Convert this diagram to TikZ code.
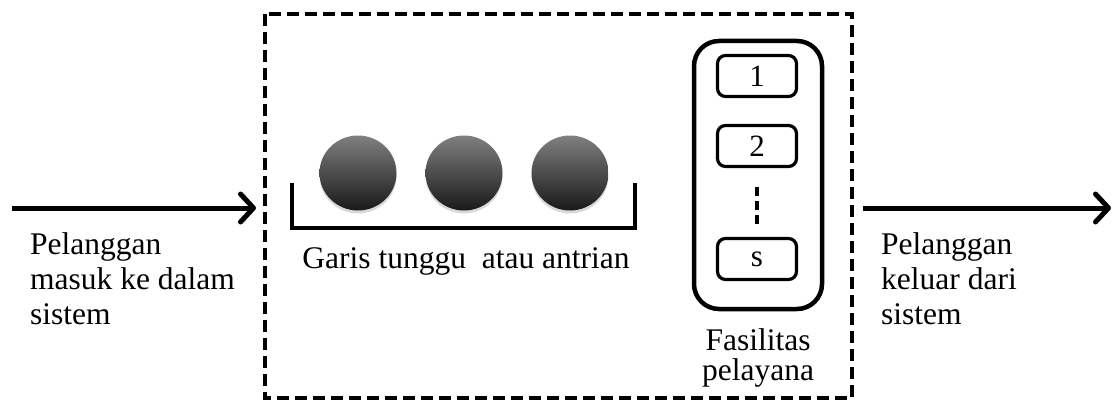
\documentclass[tikz,border=0pt]{standalone}
\usepackage{fontspec}
\setmainfont{Liberation Serif}
\usetikzlibrary{arrows.meta,shadows,shapes.geometric,calc}
\begin{document}
\begin{tikzpicture}[x=1pt,y=-1pt,
  lbl/.style={font=\fontsize{31.5}{35}\selectfont, inner sep=0pt, align=left},
  ball/.style={ellipse, minimum width=77pt, minimum height=75pt, inner sep=0pt,
    top color=black!50, bottom color=black!90, shading angle=0,
    drop shadow={shadow xshift=0pt, shadow yshift=-3pt, opacity=0.25, fill=black!60}},
  srv/.style={draw, line width=3.2pt, rounded corners=8pt, minimum width=79pt, minimum height=41pt,
    inner sep=0pt, font=\fontsize{31}{34}\selectfont},
  flow/.style={line width=5pt, -{Straight Barb[length=13pt,width=28pt,round]}},
]
\useasboundingbox (0,0) rectangle (1115,401);
% system boundary
\draw[line width=4pt, dash pattern=on 12pt off 6pt] (265,14) rectangle (852,398);
% arrows
\coordinate (inA) at (12,208);
\coordinate (inB) at (256,208);
\coordinate (outA) at (863,208);
\coordinate (outB) at (1111,208);
\draw[flow] (inA) -- (inB);
\draw[flow] (outA) -- (outB);
% texts
\node[lbl, anchor=base west] (tin) at (30,324) {Pelanggan\\masuk ke dalam\\sistem};
\node[lbl, anchor=base west] (tout) at (881,324) {Pelanggan\\keluar dari\\sistem};
% queue
\node[ball] (b1) at (358,173) {};
\node[ball] (b2) at (464,173) {};
\node[ball] (b3) at (570,173) {};
\draw[line width=4pt] (292,183) -- (292,228) -- (635,228) -- (635,183);
\node[lbl, anchor=base] (q) at (466,268) {Garis tunggu\ \ atau antrian};
% service facility
\node[draw, line width=4.5pt, rounded corners=25pt, minimum width=128pt, minimum height=268pt,
  inner sep=0pt] (fac) at (758,175) {};
\node[srv] (s1) at (757,76) {1};
\node[srv] (s2) at (757,146) {2};
\node[srv] (ss) at (757,259) {s};
\draw[line width=3.5pt, dash pattern=on 9pt off 5pt] ($(s2.south)+(0,19)$) coordinate (d1) -- ($(ss.north)+(0,-11)$) coordinate (d2);
\node[lbl, align=center, anchor=base, font=\fontsize{31.5}{30}\selectfont] (fl) at (758,380) {Fasilitas\\pelayana};
\end{tikzpicture}
\end{document}
